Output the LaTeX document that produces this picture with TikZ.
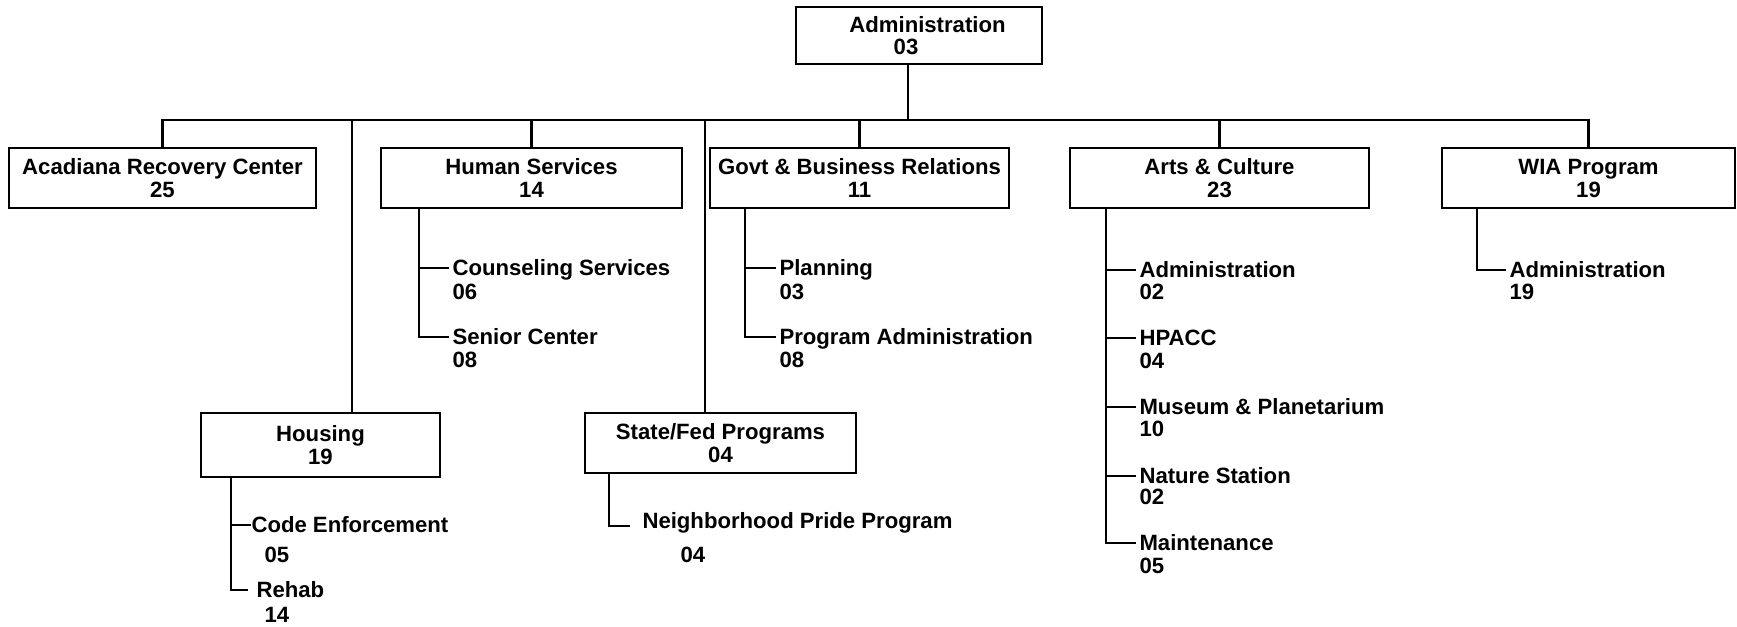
\documentclass[tikz,border=0pt]{standalone}
\usepackage{fontspec}
\setmainfont{Liberation Sans}
\usetikzlibrary{positioning}

\begin{document}
\begin{tikzpicture}[x=0.02cm,y=-0.02cm,
  font=\fontsize{12.6}{13.1}\selectfont\bfseries,
  unitbox/.style={rectangle,draw=black,line width=1.4pt,align=center,inner sep=0pt,minimum height=1.2cm},
  subunit/.style={anchor=west,inner sep=0pt,outer sep=2pt,text height=9pt,text depth=0pt},
  staff/.style={anchor=west,inner sep=0pt,outer sep=2pt,text height=9pt,text depth=0pt},
  link/.style={line width=1.2pt},
  sublink/.style={line width=1pt}]
		\useasboundingbox (0,0) rectangle (1737,626);
		% top of the chart
		\node[unitbox,minimum width=4.92cm,minimum height=1.14cm] (admin) at (919,35.5) {\hspace*{0.34cm}Administration\\[-0.03cm]\hspace*{-0.52cm}03};
		% departments
		\node[unitbox,minimum width=6.14cm] (arc) at (162.5,178) {Acadiana Recovery Center\\25};
		\node[unitbox,minimum width=6.02cm] (human) at (531.5,178) {Human Services\\14};
		\node[unitbox,minimum width=5.98cm] (govt) at (859.5,178) {Govt \& Business Relations\\11};
		\node[unitbox,minimum width=5.98cm] (arts) at (1219.5,178) {Arts \& Culture\\23};
		\node[unitbox,minimum width=5.86cm] (wia) at (1588.5,178) {WIA Program\\19};
		\node[unitbox,minimum width=4.78cm,minimum height=1.28cm] (housing) at (320.5,445) {Housing\\19};
		\node[unitbox,minimum width=5.42cm] (statefed) at (720.5,443) {State/Fed Programs\\04};
		% bus
		\coordinate (bus) at (0,120);
		\draw[link] ([xshift=-0.22cm]admin.south) -- ([xshift=-0.22cm]admin.south |- bus);
		\draw[link] (arc.north) |- (wia.north |- bus) -- (wia.north);
		\draw[link] (human.north) -- (human.north |- bus);
		\draw[link] (govt.north) -- (govt.north |- bus);
		\draw[link] (arts.north) -- (arts.north |- bus);
		\draw[link] ([xshift=0.63cm]housing.north) -- ([xshift=0.63cm]housing.north |- bus);
		\draw[link] ([xshift=-0.31cm]statefed.north) -- ([xshift=-0.31cm]statefed.north |- bus);
		% human services
		\node[subunit] (counsel) at (449,268) {Counseling Services};
		\node[staff] (counselno) at (449,292) {06};
		\node[subunit] (senior) at (449,337) {Senior Center};
		\node[staff] (seniorno) at (449,360) {08};
		\coordinate (humanstem) at (419,0);
		\draw[sublink] (human.south -| humanstem) |- (senior.west);
		\draw[sublink] (counsel.west) -- (counsel.west -| humanstem);
		% govt & business relations
		\node[subunit] (planning) at (776,268) {Planning};
		\node[staff] (planningno) at (776,292) {03};
		\node[subunit] (progadmin) at (776,337) {Program Administration};
		\node[staff] (progadminno) at (776,360) {08};
		\coordinate (govtstem) at (745,0);
		\draw[sublink] (govt.south -| govtstem) |- (progadmin.west);
		\draw[sublink] (planning.west) -- (planning.west -| govtstem);
		% arts & culture
		\node[subunit] (artsadmin) at (1136,270) {Administration};
		\node[staff] (artsadminno) at (1136,292) {02};
		\node[subunit] (hpacc) at (1136,338) {HPACC};
		\node[staff] (hpaccno) at (1136,361) {04};
		\node[subunit] (museum) at (1136,407) {Museum \& Planetarium};
		\node[staff] (museumno) at (1136,429) {10};
		\node[subunit] (nature) at (1136,476) {Nature Station};
		\node[staff] (natureno) at (1136,497) {02};
		\node[subunit] (maint) at (1136,543) {Maintenance};
		\node[staff] (maintno) at (1136,566) {05};
		\coordinate (artsstem) at (1106,0);
		\draw[sublink] (arts.south -| artsstem) |- (maint.west);
		\draw[sublink] (artsadmin.west) -- (artsadmin.west -| artsstem);
		\draw[sublink] (hpacc.west) -- (hpacc.west -| artsstem);
		\draw[sublink] (museum.west) -- (museum.west -| artsstem);
		\draw[sublink] (nature.west) -- (nature.west -| artsstem);
		% wia program
		\node[subunit] (wiaadmin) at (1506,270) {Administration};
		\node[staff] (wiaadminno) at (1506,292) {19};
		\coordinate (wiastem) at (1477,0);
		\draw[sublink] (wia.south -| wiastem) |- (wiaadmin.west);
		% housing
		\node[subunit] (code) at (248,525) {Code Enforcement};
		\node[staff] (codeno) at (261,555) {05};
		\node[subunit] (rehab) at (253,590) {Rehab};
		\node[staff] (rehabno) at (261,615) {14};
		\coordinate (housingstem) at (231,0);
		\draw[sublink] (housing.south -| housingstem) |- ([xshift=-3pt]rehab.west);
		\draw[sublink] ([xshift=1.5pt]code.west) -- (code.west -| housingstem);
		% state/fed programs
		\node[subunit] (pride) at (639,521) {Neighborhood Pride Program};
		\node[staff] (prideno) at (677,555) {04};
		\coordinate (statefedstem) at (609,0);
		\draw[sublink] (statefed.south -| statefedstem) |- ([xshift=-5.4pt,yshift=-3pt]pride.west);
	\end{tikzpicture}
\end{document}
